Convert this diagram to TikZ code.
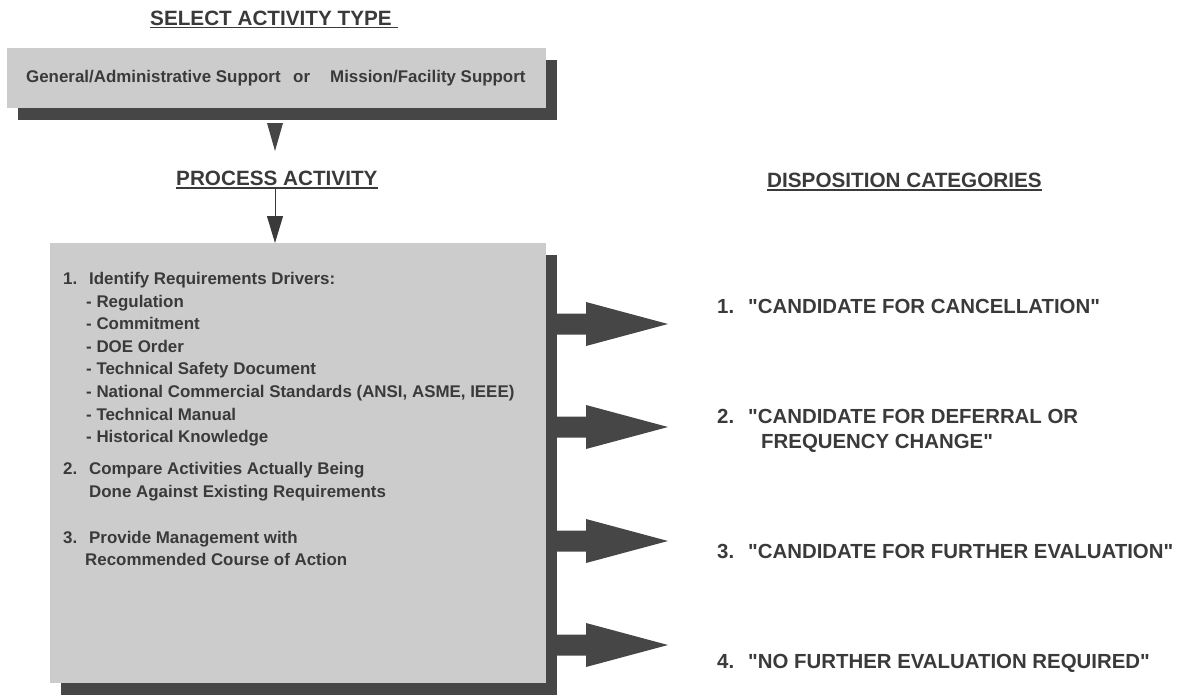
\documentclass[tikz,border=0pt]{standalone}
\usepackage{fontspec}
\setmainfont{Liberation Sans}
\usepackage{tikz}
\usetikzlibrary{arrows.meta,shadows,calc}
\definecolor{boxgray}{HTML}{CCCCCC}
\definecolor{shadowgray}{HTML}{464646}
\definecolor{inkgray}{HTML}{3A3A3A}

\tikzset{
  graybox/.style={fill=boxgray, inner sep=0pt, outer sep=0pt,
    drop shadow={shadow xshift=11pt, shadow yshift=-11.5pt, fill=shadowgray, opacity=1}},
  headtxt/.style={anchor=base west, inner sep=0pt, text=inkgray, font=\fontsize{20.7}{24}\selectfont\bfseries},
  boxtxt/.style={anchor=base west, inner sep=0pt, text=inkgray, font=\fontsize{16.9}{20}\selectfont\bfseries},
  cattxt/.style={anchor=base west, inner sep=0pt, text=inkgray, font=\fontsize{20.4}{24}\selectfont\bfseries},
  uline/.style={draw=inkgray, line width=1.4pt},
  thinarrow/.style={draw=inkgray, line width=1pt, -{Triangle[length=27pt,width=16pt]}}
}

\begin{document}
\begin{tikzpicture}[x=1pt,y=-1pt]
\useasboundingbox (0,0) rectangle (1192,696);

% titles
\node[headtxt] (seltitle) at (150,25) {SELECT ACTIVITY TYPE};
\draw[uline] ([yshift=-2.6pt]seltitle.base west) -- ([yshift=-2.6pt,xshift=6pt]seltitle.base east);
\node[headtxt] (proctitle) at (176,185.4) {PROCESS ACTIVITY};
\draw[uline] ([yshift=-2.6pt]proctitle.base west) -- ([yshift=-2.6pt]proctitle.base east);
\node[headtxt] (disptitle) at (767,187) {DISPOSITION CATEGORIES};
\draw[uline] ([yshift=-3pt]disptitle.base west) -- ([yshift=-3pt]disptitle.base east);

% activity type box
\node[graybox, minimum width=539pt, minimum height=60pt] (selbox) at (276.5,78) {};
\node[boxtxt] (gen) at (26,82.5) {General/Administrative Support};
\node[boxtxt] (or) at (293,82.5) {or};
\node[boxtxt] (mis) at (330,82.5) {Mission/Facility Support};

% process box
\node[graybox, minimum width=496pt, minimum height=440pt] (procbox) at (298,463) {};
\node[boxtxt] (step1) at (63,284.5) {\makebox[26pt][l]{1.}Identify Requirements Drivers:};
\foreach \t [count=\i] in {Regulation, Commitment, DOE Order, Technical Safety Document,
    {National Commercial Standards (ANSI, ASME, IEEE)}, Technical Manual, Historical Knowledge}
  \node[boxtxt] (drv\i) at (86,{284.5+22.6*\i}) {- \t};
\node[boxtxt] (step2) at (63,474.5) {\makebox[26pt][l]{2.}Compare Activities Actually Being};
\node[boxtxt] (step2b) at (89,497.5) {Done Against Existing Requirements};
\node[boxtxt] (step3) at (63,543.5) {\makebox[26pt][l]{3.}Provide Management with};
\node[boxtxt] (step3b) at (85,565.5) {Recommended Course of Action};

% connectors
\coordinate (seltip) at (275,151);
\fill[shadowgray] (seltip) -- ++(-8,-28) -- ++(16,0) -- cycle;
\coordinate (proctop) at (275,189);
\draw[thinarrow] (proctop) -- (procbox.north -| proctop);

\foreach \y [count=\i] in {324,427,541,645} {
  \coordinate (tip\i) at (668,\y);
  \fill[shadowgray] (procbox.east |- tip\i) ++(0,-10.5) -- ++(40,0) -- ++(0,-11.5)
    -- (tip\i) -- ++(-82,22) -- ++(0,-11.5) -- ++(-40,0) -- cycle;
}

% categories
\node[cattxt] (cat1) at (717,313.8) {\makebox[31pt][l]{1.}\textquotedbl CANDIDATE FOR CANCELLATION\textquotedbl};
\node[cattxt] (cat2) at (717,423.8) {\makebox[31pt][l]{2.}\textquotedbl CANDIDATE FOR DEFERRAL OR};
\node[cattxt] (cat2b) at (761,448.8) {FREQUENCY CHANGE\textquotedbl};
\node[cattxt] (cat3) at (717,558.8) {\makebox[31pt][l]{3.}\textquotedbl CANDIDATE FOR FURTHER EVALUATION\textquotedbl};
\node[cattxt] (cat4) at (717,668.8) {\makebox[31pt][l]{4.}\textquotedbl NO FURTHER EVALUATION REQUIRED\textquotedbl};
\end{tikzpicture}
\end{document}
